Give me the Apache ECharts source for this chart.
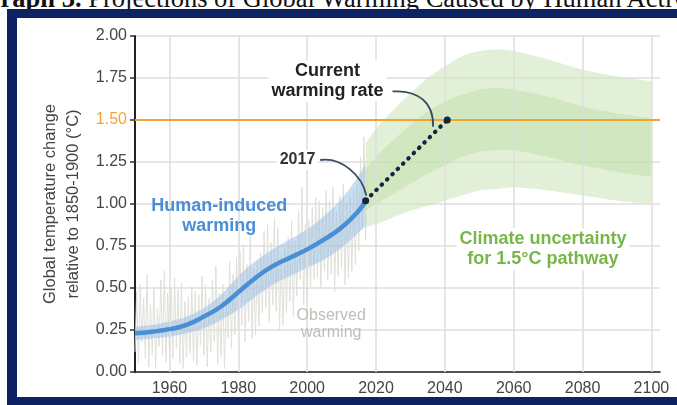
<!DOCTYPE html>
<html>
<head>
<meta charset="utf-8">
<script src="https://cdn.jsdelivr.net/npm/echarts@6/dist/echarts.min.js"></script>
<style>
  html, body { margin: 0; padding: 0; background: #fff; }
  #wrap { position: relative; width: 677px; height: 405px; overflow: hidden; background: #fff; }
  #title {
    position: absolute; left: -20px; top: -17px; white-space: nowrap;
    font-family: "Liberation Serif", "Times New Roman", serif; font-size: 26.5px; color: #111;
  }
  #title b { font-weight: bold; }
  #frame {
    position: absolute; left: 7px; top: 9px; width: 680px; height: 396px; box-sizing: border-box;
    border-left: 10px solid #0c2262; border-top: 9px solid #0c2262; border-bottom: 8px solid #0c2262;
  }
  #chart { position: absolute; left: 17px; top: 18px; width: 660px; height: 379px; }
</style>
</head>
<body>
<div id="wrap">
  <div id="title"><b>Graph 3.</b> Projections of Global Warming Caused by Human Activities</div>
  <div id="frame"></div>
  <div id="chart"></div>
</div>
<script>
// Axis ticks
const yTicks = [0, 0.25, 0.5, 0.75, 1.0, 1.25, 1.5, 1.75, 2.0];
const xTickYears = [1960, 1980, 2000, 2020, 2040, 2060, 2080, 2100];

// Observed warming, two readings per year from 1950
const observedStart = 1950;
const observedWarming = [
  0.12, 0.48, 0.05, 0.52, 0.18, 0.44, 0.08, 0.58, 0.03, 0.40,
  0.10, 0.50, 0.02, 0.38, 0.15, 0.55, 0.10, 0.60, 0.06, 0.47,
  0.12, 0.50, 0.08, 0.56, 0.14, 0.49, 0.05, 0.53, 0.02, 0.42,
  0.09, 0.45, 0.11, 0.51, 0.06, 0.48, 0.04, 0.46, 0.16, 0.57,
  0.10, 0.52, 0.03, 0.44, 0.12, 0.55, 0.18, 0.63, 0.05, 0.47,
  0.09, 0.52, 0.02, 0.45, 0.20, 0.66, 0.14, 0.58, 0.22, 0.68,
  0.25, 0.72, 0.28, 0.76, 0.18, 0.64, 0.30, 0.82, 0.20, 0.62,
  0.22, 0.66, 0.27, 0.71, 0.35, 0.84, 0.38, 0.88, 0.30, 0.77,
  0.40, 0.92, 0.36, 0.86, 0.25, 0.70, 0.28, 0.74, 0.35, 0.80,
  0.42, 0.90, 0.33, 0.78, 0.45, 0.96, 0.55, 1.10, 0.40, 0.88,
  0.42, 0.90, 0.50, 0.98, 0.55, 1.04, 0.56, 1.02, 0.50, 0.98,
  0.60, 1.08, 0.55, 1.02, 0.58, 1.10, 0.48, 0.95, 0.57, 1.05,
  0.62, 1.12, 0.52, 1.00, 0.56, 1.04, 0.60, 1.08, 0.64, 1.12,
  0.72, 1.28, 0.85, 1.40, 0.78, 1.22
];

// Human-induced warming (best estimate and likely range)
const humanYears = [1950, 1955, 1960, 1965, 1970, 1975, 1980, 1985, 1990, 1995, 2000, 2005, 2010, 2015, 2017];
const humanWarming = [0.23, 0.24, 0.255, 0.28, 0.33, 0.39, 0.475, 0.56, 0.63, 0.68, 0.73, 0.79, 0.86, 0.96, 1.02];
const humanLower  = [0.19, 0.20, 0.21, 0.23, 0.26, 0.31, 0.37, 0.45, 0.52, 0.57, 0.62, 0.67, 0.74, 0.83, 0.87];
const humanUpper  = [0.27, 0.28, 0.30, 0.33, 0.38, 0.46, 0.57, 0.66, 0.73, 0.79, 0.85, 0.93, 1.03, 1.17, 1.24];

// Climate uncertainty for a 1.5°C pathway
const pathYears  = [2017, 2020, 2025, 2030, 2035, 2040, 2045, 2050, 2055, 2060, 2070, 2080, 2090, 2100];
const outerUpper = [1.36, 1.45, 1.56, 1.66, 1.75, 1.82, 1.88, 1.91, 1.92, 1.91, 1.86, 1.80, 1.76, 1.73];
const innerUpper = [1.20, 1.28, 1.38, 1.47, 1.55, 1.61, 1.65, 1.68, 1.69, 1.68, 1.64, 1.58, 1.54, 1.51];
const innerLower = [0.96, 1.00, 1.06, 1.12, 1.18, 1.23, 1.28, 1.31, 1.32, 1.32, 1.28, 1.23, 1.19, 1.16];
const outerLower = [0.86, 0.88, 0.92, 0.96, 0.99, 1.02, 1.05, 1.08, 1.09, 1.10, 1.08, 1.05, 1.02, 1.00];

// Current warming rate extrapolated from 2017 to 1.5°C
const rateYears = [2017, 2040.7];
const rateValues = [1.02, 1.50];

const targetLevel = 1.5;

const FONT = '"Liberation Sans", Arial, Helvetica, sans-serif';
const ORANGE = '#f2a531';

// Shaded range: a smoothed polygon whose end corners are doubled so the
// vertical end edges stay straight.
function bandSeries(years, lower, upper, fill, z) {
  return {
    type: 'custom', z: z, silent: true, clip: true,
    encode: { x: 0, y: 1 },
    data: [[years[0], lower[0]]],
    renderItem: function (params, api) {
      const n = years.length;
      const pts = [];
      pts.push(api.coord([years[0], upper[0]]));
      for (let i = 0; i < n; i++) pts.push(api.coord([years[i], upper[i]]));
      pts.push(api.coord([years[n - 1], upper[n - 1]]));
      pts.push(api.coord([years[n - 1], lower[n - 1]]));
      for (let i = n - 1; i >= 0; i--) pts.push(api.coord([years[i], lower[i]]));
      pts.push(api.coord([years[0], lower[0]]));
      return { type: 'polygon', shape: { points: pts, smooth: 0.3 }, style: { fill: fill } };
    }
  };
}

const chart = echarts.init(document.getElementById('chart'));

const series = [
  {
    // vertical grid lines every 20 years
    type: 'line', data: [], z: 1, silent: true,
    markLine: {
      silent: true, symbol: 'none', label: { show: false },
      lineStyle: { color: '#dedede', width: 1.5, type: 'solid' },
      data: xTickYears.map(function (y) { return { xAxis: y }; })
    }
  },
  {
    name: 'Observed warming', type: 'line', z: 2, symbol: 'none', silent: true,
    lineStyle: { color: '#e0e0da', width: 1 },
    data: observedWarming.map(function (v, i) { return [observedStart + i * 0.5, v]; })
  },
  bandSeries(humanYears, humanLower, humanUpper, 'rgba(145,185,225,0.48)', 3),
  bandSeries(pathYears, outerLower, outerUpper, 'rgba(208,230,190,0.6)', 3),
  bandSeries(pathYears, innerLower, innerUpper, 'rgba(192,222,168,0.52)', 4),
  {
    name: 'Human-induced warming', type: 'line', z: 5, smooth: true, symbol: 'none', silent: true,
    lineStyle: { color: '#4a8ed6', width: 4.5 },
    data: humanYears.map(function (y, i) { return [y, humanWarming[i]]; })
  },
  {
    type: 'line', data: [], z: 6, silent: true,
    markLine: {
      silent: true, symbol: 'none', label: { show: false },
      lineStyle: { color: ORANGE, width: 2, type: 'solid' },
      data: [{ yAxis: targetLevel }]
    }
  },
  {
    name: 'Current warming rate', type: 'line', z: 7, silent: true,
    symbol: 'circle', symbolSize: 7,
    itemStyle: { color: '#15243e' },
    lineStyle: { color: '#15243e', width: 4.2, type: [0.5, 7], cap: 'round' },
    data: rateYears.map(function (y, i) { return [y, rateValues[i]]; })
  }
];

chart.setOption({
  animation: false,
  textStyle: { fontFamily: FONT },
  grid: { left: 118, right: 17, top: 18, bottom: 24 },
  xAxis: {
    type: 'value', min: 1950, max: 2102.5, interval: 10,
    axisLine: { lineStyle: { color: '#222', width: 1.5 } },
    axisTick: { show: false },
    splitLine: { show: false },
    axisLabel: {
      color: '#444', fontSize: 16, margin: 9, showMaxLabel: false, showMinLabel: false,
      formatter: function (v) { return xTickYears.indexOf(v) >= 0 ? String(v) : ''; }
    }
  },
  yAxis: {
    type: 'value', min: yTicks[0], max: yTicks[yTicks.length - 1], interval: 0.25,
    name: 'Global temperature change\nrelative to 1850-1900 (°C)',
    nameLocation: 'middle', nameRotate: 90, nameGap: 43,
    nameTextStyle: { color: '#444', fontSize: 16.5, lineHeight: 23 },
    axisLine: { show: true, lineStyle: { color: '#222', width: 2 } },
    axisTick: { show: true, length: 5, lineStyle: { color: '#333', width: 1.5 } },
    splitLine: { lineStyle: { color: '#dedede', width: 1.5 } },
    axisLabel: {
      fontSize: 16, margin: 8,
      color: function (v) { return Math.abs(v - targetLevel) < 1e-6 ? ORANGE : '#444'; },
      formatter: function (v) { return v.toFixed(2); }
    }
  },
  series: series
});

function px(p) { return chart.convertToPixel({ gridIndex: 0 }, p); }

function label(text, at, color, weight, size, lh, bg) {
  const p = px(at);
  return {
    type: 'text', z: 20, silent: true,
    style: {
      text: text, x: p[0], y: p[1], align: 'center', verticalAlign: 'middle',
      fill: color, font: weight + ' ' + size + 'px ' + FONT, lineHeight: lh,
      backgroundColor: bg || null, padding: bg ? [1, 3] : 0
    }
  };
}

function connector(a, c1, c2, b) {
  const A = px(a), C1 = px(c1), C2 = px(c2), B = px(b);
  return {
    type: 'bezierCurve', z: 19, silent: true,
    shape: { x1: A[0], y1: A[1], cpx1: C1[0], cpy1: C1[1], cpx2: C2[0], cpy2: C2[1], x2: B[0], y2: B[1] },
    style: { stroke: '#3b4a5e', lineWidth: 1.8, fill: null }
  };
}

chart.setOption({
  graphic: [
    label('Current\nwarming rate', [2005.9, 1.733], '#222', 'bold', 18, 20, '#fff'),
    connector([2024.8, 1.67], [2032.5, 1.68], [2036.8, 1.60], [2036.6, 1.46]),
    label('2017', [1997.2, 1.264], '#333', 'bold', 16, 18, '#fff'),
    connector([2003.8, 1.262], [2010, 1.28], [2016, 1.17], [2017.2, 1.05]),
    label('Human-induced\nwarming', [1974.5, 0.926], '#4a8ed6', 'bold', 18, 20, null),
    label('Climate uncertainty\nfor 1.5°C pathway', [2068.5, 0.73], '#79b64a', 'bold', 18, 20, '#fff'),
    label('Observed\nwarming', [2007.0, 0.285], '#bfbfb8', 'normal', 16, 17, null)
  ]
});
</script>
</body>
</html>
